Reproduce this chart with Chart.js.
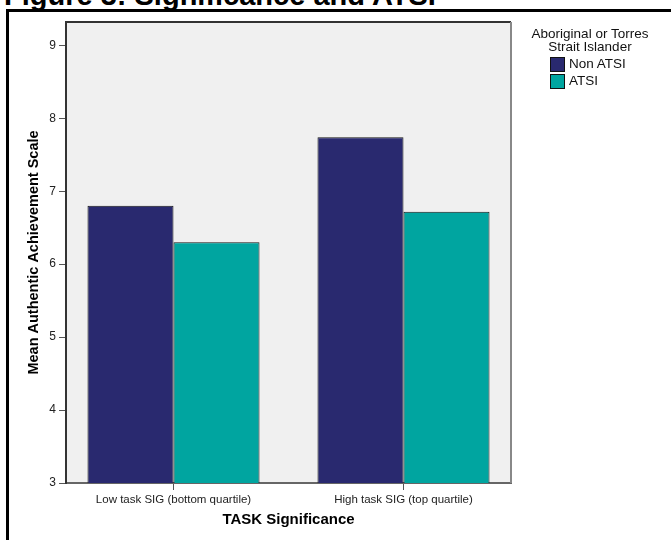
<!DOCTYPE html>
<html>
<head>
<meta charset="utf-8">
<script src="https://cdn.jsdelivr.net/npm/chart.js@4/dist/chart.umd.min.js"></script>
<style>
    body { margin: 0; background: #fff; font-family: "Liberation Sans", Arial, sans-serif; }
    #wrap { position: relative; width: 671px; height: 540px; overflow: hidden; }
    #figTitle { position: absolute; left: 4px; top: -19px; font-size: 29px; font-weight: bold; line-height: 1; white-space: nowrap; }
    #frame { position: absolute; left: 6px; top: 9px; width: 700px; height: 600px; border-left: 3px solid #000; border-top: 3px solid #000; }
    #chart { position: absolute; left: 0; top: 0; }
    #legend { position: absolute; left: 515px; top: 27px; width: 150px; font-size: 13.5px; color: #111; }
    #legend .ttl { text-align: center; line-height: 13px; }
    #legend .item { position: relative; height: 17px; margin-left: 35px; }
    #legend .sw { position: absolute; left: 0; top: 1px; width: 13px; height: 13px; border: 1px solid #111; box-sizing: content-box; }
    #legend .lbl { position: absolute; left: 19px; top: 0; line-height: 16px; }
</style>
</head>
<body>
<div id="wrap">
    <div id="figTitle">Figure 3: Significance and ATSI</div>
    <div id="frame"></div>
    <canvas id="chart" width="671" height="540"></canvas>
    <div id="legend"></div>
</div>
<script>
const categories = ['Low task SIG (bottom quartile)', 'High task SIG (top quartile)'];
const seriesNames = ['Non ATSI', 'ATSI'];
const nonAtsi = [6.80, 7.74];
const atsi = [6.30, 6.72];
const yTicks = [3, 4, 5, 6, 7, 8, 9];

const colors = ['#29296f', '#00a5a0'];

// legend as plain html
const legendEl = document.getElementById('legend');
legendEl.innerHTML = '<div class="ttl">Aboriginal or Torres<br>Strait Islander</div><div style="height:3px"></div>' +
    seriesNames.map((name, i) =>
        `<div class="item"><span class="sw" style="background:${colors[i]}"></span><span class="lbl">${name}</span></div>`
    ).join('');

const plotFrame = {
    id: 'plotFrame',
    beforeDraw(chart) {
        const { ctx, chartArea: a } = chart;
        ctx.save();
        ctx.fillStyle = '#f0f0f0';
        ctx.fillRect(a.left, a.top, a.right - a.left, a.bottom - a.top);
        ctx.restore();
    },
    afterDraw(chart) {
        const { ctx, chartArea: a } = chart;
        ctx.save();
        ctx.lineWidth = 2;
        ctx.strokeStyle = '#333';
        ctx.beginPath();
        ctx.moveTo(a.left, a.top);
        ctx.lineTo(a.right, a.top);
        ctx.stroke();
        ctx.strokeStyle = '#888';
        ctx.beginPath();
        ctx.moveTo(a.right, a.top);
        ctx.lineTo(a.right, a.bottom);
        ctx.stroke();
        ctx.restore();
    }
};

const toPoints = arr => arr.map((v, i) => ({ x: i, y: v }));

new Chart(document.getElementById('chart').getContext('2d'), {
    type: 'bar',
    data: {
        datasets: [
            { label: seriesNames[0], data: toPoints(nonAtsi), backgroundColor: colors[0] },
            { label: seriesNames[1], data: toPoints(atsi), backgroundColor: colors[1] }
        ]
    },
    options: {
        responsive: false,
        animation: false,
        datasets: {
            bar: { borderColor: '#151515', borderWidth: 1, categoryPercentage: 0.748, barPercentage: 1 }
        },
        layout: { padding: { top: 22, right: 160, bottom: 0, left: 0 } },
        plugins: { legend: { display: false }, tooltip: { enabled: false } },
        scales: {
            x: {
                type: 'linear',
                offset: false,
                min: -0.4674,
                max: categories.length - 1 + 0.4674,
                z: 1,
                grid: { drawOnChartArea: false, offset: false, tickLength: 7, color: '#555' },
                border: { color: '#666', width: 2 },
                ticks: {
                    stepSize: 1,
                    includeBounds: false,
                    maxRotation: 0,
                    padding: 3,
                    color: '#222',
                    font: { family: 'Liberation Sans', size: 11.5 },
                    callback: v => categories[v] ?? ''
                },
                title: {
                    display: true,
                    text: 'TASK Significance',
                    color: '#000',
                    font: { family: 'Liberation Sans', size: 15, weight: 'bold' },
                    padding: { top: 0, bottom: 11 }
                },
                afterFit: s => { s.height = 57; }
            },
            y: {
                min: yTicks[0],
                max: 9.32,
                grid: { drawOnChartArea: false, tickLength: 7, color: '#555' },
                border: { color: '#333', width: 2 },
                afterBuildTicks: s => { s.ticks = yTicks.map(v => ({ value: v })); },
                ticks: {
                    padding: 3,
                    color: '#222',
                    font: { family: 'Liberation Sans', size: 12 }
                },
                title: {
                    display: true,
                    text: 'Mean Authentic Achievement Scale',
                    color: '#000',
                    font: { family: 'Liberation Sans', size: 14.5, weight: 'bold' },
                    padding: { top: 25, bottom: 0 }
                },
                afterFit: s => { s.width = 66; }
            }
        }
    },
    plugins: [plotFrame]
});
</script>
</body>
</html>
